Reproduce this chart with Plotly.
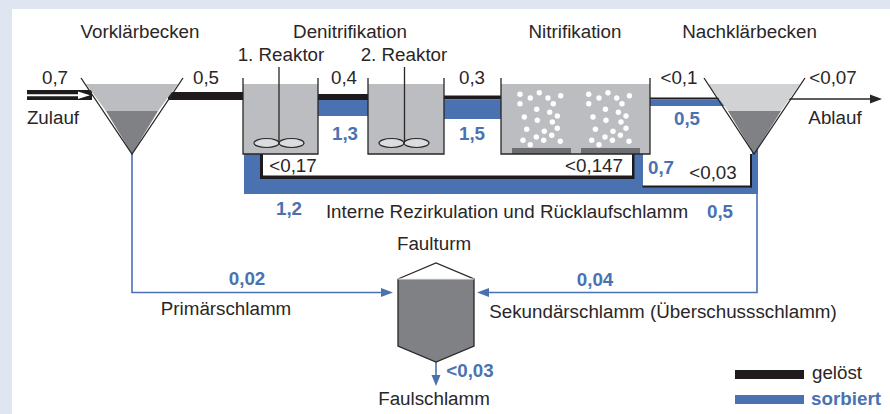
import plotly.graph_objects as go

INK = "#2a2627"
BLUE = "#4b72b0"
GREY_LIGHT = "#bcbdc0"
GREY_PALE = "#d1d2d4"
GREY_DARK = "#808184"
GREY_BAR = "#6d6e71"
FRAME = "#dfe5f1"
FONT = "Liberation Sans"
TEXT_SIZE = 18.8
TEXT_DY = 1.5

BLACK_LABELS = ["Vorklärbecken", "Denitrifikation", "1. Reaktor", "2. Reaktor", "Nitrifikation",
                "Nachklärbecken", "0,7", "0,5", "0,4", "0,3", "&lt;0,1", "&lt;0,07", "Zulauf", "Ablauf",
                "&lt;0,17", "&lt;0,147", "&lt;0,03", "Interne Rezirkulation und Rücklaufschlamm",
                "Faulturm", "Primärschlamm", "Sekundärschlamm (Überschussschlamm)", "Faulschlamm", "gelöst"]
BLACK_X = [140, 350, 281, 404, 575, 749.5, 55, 206, 344, 472, 679, 833, 53, 835,
           293, 594, 713, 507, 434, 226, 663, 434, 837]
BLACK_Y = [32, 32, 55, 55, 32, 32, 78, 78, 78, 78, 78, 78, 118, 118,
           166, 166, 173, 212, 244, 309, 312, 399, 373]

BLUE_LABELS = ["1,3", "1,5", "0,5", "0,7", "1,2", "0,5", "0,02", "0,04", "&lt;0,03", "sorbiert"]
BLUE_X = [345, 472, 687, 661, 289, 720, 247, 595, 470, 846]
BLUE_Y = [134, 134, 119, 168, 209, 212, 279, 280, 371, 399]

BUBBLE_X = [520.0, 530.3, 539.3, 548.0, 560.7, 520.0, 553.3, 536.7, 549.7, 557.3, 524.3,
            537.3, 552.3, 526.7, 557.3, 544.3, 551.7, 536.3, 523.0, 543.7, 530.3, 560.3]
BUBBLE_Y = [94.3, 98.0, 92.7, 98.0, 95.7, 103.7, 103.7, 109.3, 112.3, 116.0, 117.0,
            120.3, 122.0, 129.3, 128.3, 131.3, 135.3, 137.0, 140.3, 140.3, 144.7, 141.3]
BUBBLE_GROUP_SHIFT = 68.7

fig = go.Figure()


def poly(xs, ys, fill=None, line=None, width=1.3, close=False):
    if close and xs[0] != xs[-1]:
        xs = list(xs) + [xs[0]]
        ys = list(ys) + [ys[0]]
    fig.add_trace(go.Scatter(
        x=xs, y=ys, mode="lines", hoverinfo="skip", showlegend=False,
        fill="toself" if fill else "none", fillcolor=fill,
        line=dict(color=line or "rgba(0,0,0,0)", width=width if line else 0),
    ))


def rect(x0, y0, x1, y1, fill):
    poly([x0, x1, x1, x0, x0], [y0, y0, y1, y1, y0], fill=fill)


# frame
rect(0, 0, 890, 414, FRAME)
rect(12, 9, 890, 414, "white")

# thin sludge lines
poly([132, 132, 385], [154, 292.5, 292.5], line=BLUE, width=1.6)
poly([757, 757, 485], [190, 292.5, 292.5], line=BLUE, width=1.6)
poly([436, 436], [362, 378], line=BLUE, width=1.6)
poly([381, 393, 381], [288, 292.5, 297], fill=BLUE)
poly([489, 477, 489], [288, 292.5, 297], fill=BLUE)
poly([431.5, 436, 440.5], [375, 386, 375], fill=BLUE)

# flows along the top
rect(27, 90, 92, 100, "#1f1b1c")
rect(27, 94.2, 80, 96.2, "white")
poly([78, 90, 78], [91.5, 95.2, 99], fill="white")
rect(168, 92, 244, 100, "#1f1b1c")
rect(318, 94, 368, 100, "#1f1b1c")
rect(318, 100, 368, 116, BLUE)
rect(444, 95.5, 501, 99.5, "#1f1b1c")
rect(444, 99.5, 501, 119, BLUE)
rect(650, 97.5, 730, 99.5, "#1f1b1c")
rect(650, 99.5, 730, 106, BLUE)
poly([780, 872], [99, 99], line=INK, width=1.3)
poly([870, 882, 870], [94.5, 99, 103.5], fill=INK)

# recirculation
rect(244, 154, 260, 194, BLUE)
rect(244, 178, 643, 194, BLUE)
rect(634, 154, 643, 194, BLUE)
rect(643, 187, 758, 194, BLUE)
rect(752, 148, 758, 194, BLUE)
rect(260, 154, 263, 179, "#1f1b1c")
rect(260, 175.5, 634, 179, "#1f1b1c")
rect(632, 154, 634.5, 179, "#1f1b1c")
rect(642.5, 185.5, 752, 187.5, "#1f1b1c")
rect(750, 154, 752, 187.5, "#1f1b1c")

# clarifiers
poly([86, 178, 158, 106], [84, 84, 111, 111], fill=GREY_LIGHT, close=True)
poly([106, 158, 132], [111, 111, 154], fill=GREY_DARK, close=True)
poly([81, 132, 183], [78, 154, 78], line=INK)
poly([708, 800, 781, 728], [84, 84, 111, 111], fill=GREY_PALE, close=True)
poly([728, 781, 754], [111, 111, 154], fill=GREY_DARK, close=True)
poly([704, 754, 805], [78, 154, 78], line=INK)

# denitrification reactors
for x0, x1, xs in [(243, 318, 279), (368, 444, 404.5)]:
    rect(x0, 84, x1, 154, GREY_LIGHT)
    poly([x0, x0, x1, x1], [78, 154, 154, 78], line=INK)
    poly([xs, xs], [67, 143], line=INK)

# nitrification tank
rect(501, 84, 650, 154, GREY_LIGHT)
rect(512, 148, 571, 154, GREY_BAR)
rect(581, 148, 640, 154, GREY_BAR)
poly([501, 501, 650, 650], [78, 154, 154, 78], line=INK)
fig.add_trace(go.Scatter(
    x=BUBBLE_X + [v + BUBBLE_GROUP_SHIFT for v in BUBBLE_X], y=BUBBLE_Y + BUBBLE_Y,
    mode="markers", hoverinfo="skip", showlegend=False,
    marker=dict(color="white", size=5.4, line=dict(width=0)),
))

# digester
poly([398, 474, 474, 436, 398], [279, 279, 346, 362, 346], fill=GREY_DARK, close=True)
poly([398, 436, 474, 474, 436, 398, 398], [279, 263, 279, 346, 362, 346, 279], line=INK)
poly([398, 474], [279, 279], line="#e8e8e8", width=1)

# legend swatches
rect(735, 370, 804, 379, "#1f1b1c")
rect(735, 395, 804, 404, BLUE)

# text
fig.add_trace(go.Scatter(
    x=BLACK_X, y=[v + TEXT_DY for v in BLACK_Y], text=BLACK_LABELS, mode="text", textposition="middle center",
    hoverinfo="skip", showlegend=False,
    textfont=dict(family=FONT, size=TEXT_SIZE, color=INK),
))
fig.add_trace(go.Scatter(
    x=BLUE_X, y=[v + TEXT_DY for v in BLUE_Y], text=[f"<b>{t}</b>" for t in BLUE_LABELS], mode="text",
    textposition="middle center", hoverinfo="skip", showlegend=False,
    textfont=dict(family=FONT, size=TEXT_SIZE, color=BLUE),
))

# stirrer paddles
shapes = []
for cx in [266.5, 291.5, 391.5, 416.5]:
    shapes.append(dict(type="circle", xref="x", yref="y", x0=cx - 12.5, x1=cx + 12.5, y0=138.5, y1=147.5,
                       fillcolor="#dcdddf", line=dict(color=INK, width=1.2)))

fig.update_layout(
    width=890, height=414, autosize=False,
    margin=dict(l=0, r=0, t=0, b=0),
    paper_bgcolor="white", plot_bgcolor="white",
    xaxis=dict(range=[0, 890], visible=False, fixedrange=True),
    yaxis=dict(range=[414, 0], visible=False, fixedrange=True),
    shapes=shapes,
    showlegend=False,
)
fig.write_html("out.html", config=dict(displayModeBar=False),
               post_script="document.body.style.margin='0';document.body.style.overflow='hidden';")
